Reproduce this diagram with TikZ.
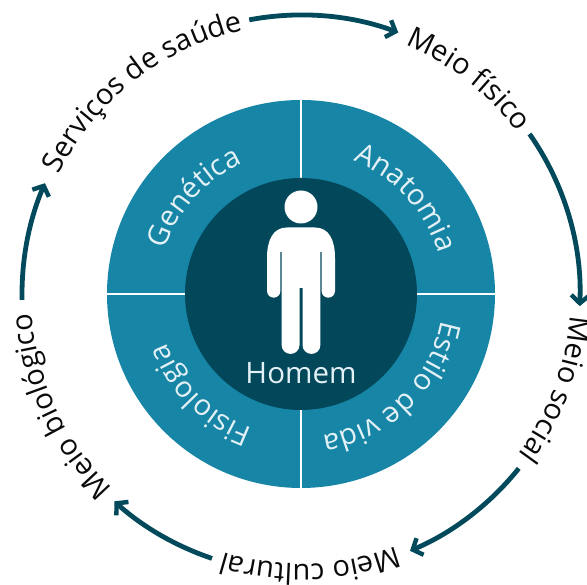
\documentclass[tikz,border=0pt]{standalone}
\usepackage{fontspec}
\setmainfont{Open Sans}
\usetikzlibrary{decorations.text,arrows.meta}
\definecolor{ringc}{HTML}{1785A6}
\definecolor{darkc}{HTML}{03475A}
\definecolor{arrowc}{HTML}{02495C}
\definecolor{lightc}{HTML}{E3F1F6}
\definecolor{labelc}{HTML}{0A0A0A}
\tikzset{
 flow/.style={draw=arrowc,line width=4.8pt,-{Straight Barb[length=8pt,width=18pt,line width=4.4pt]}},
 outertext/.style={decorate,decoration={text along path,text align=center,text={|\fontsize{29}{29}\selectfont\color{labelc}|#1}}},
 innertext/.style={decorate,decoration={text along path,text align=center,text={|\fontsize{29}{29}\selectfont\color{lightc}|#1}}},
}
\newcommand{\flowarc}[2]{\draw[flow] (#1:279) arc[start angle=#1,end angle=#2,radius=279];}
\newcommand{\outerlabel}[2]{\path[outertext={#2}] (#1+70:270) arc[start angle=#1+70,end angle=#1-70,radius=270];}
\newcommand{\innerlabel}[2]{\path[innertext={#2}] (#1+70:143) arc[start angle=#1+70,end angle=#1-70,radius=143];}
\begin{document}
\begin{tikzpicture}[x=1pt,y=1pt]
\useasboundingbox (0,0) rectangle (587,585);
\begin{scope}[shift={(301,291)}]
  \fill[ringc] (0,0) circle (194);
  \draw[white,line width=2pt] (0,194) -- (0,-194);
  \draw[white,line width=2pt] (-194,0) -- (194,0);
  \fill[darkc] (0,0) circle (116);
  \innerlabel{138}{Genética}
  \innerlabel{42.5}{Anatomia}
  \innerlabel{-46}{Estilo de vida}
  \innerlabel{-135}{Fisiologia}
  \outerlabel{128}{Serviços de saúde}
  \outerlabel{52}{Meio físico}
  \outerlabel{-20.5}{Meio social}
  \outerlabel{-88}{Meio cultural}
  \outerlabel{-155}{Meio biológico}
  \flowarc{100.7}{69.6}
  \flowarc{35}{-2.5}
  \flowarc{-38.7}{-67}
  \flowarc{-108.6}{-132}
  \flowarc{181.2}{156.6}
\end{scope}
\begin{scope}[shift={(0,585)},yscale=-1]
  \fill[white] (301,207) circle (16.5);
  \fill[white]
    (287,227.5) -- (315,227.5) .. controls (329,227.5) and (335,240) .. (335,258)
    -- (335,291) arc[start angle=0,end angle=180,radius=6.7] -- (321.6,252) -- (320.4,252)
    -- (320.4,345) arc[start angle=0,end angle=180,radius=8.95] -- (302.5,288) -- (299.5,288) -- (299.5,345)
    arc[start angle=0,end angle=180,radius=8.95] -- (281.6,252) -- (280.4,252) -- (280.4,291)
    arc[start angle=0,end angle=180,radius=6.7] -- (267,258) .. controls (267,240) and (273,227.5) .. (287,227.5) -- cycle;
\end{scope}
\node[text=lightc,font=\fontsize{29.5}{29.5}\selectfont] (homem) at (301,212) {Homem};
\end{tikzpicture}
\end{document}
